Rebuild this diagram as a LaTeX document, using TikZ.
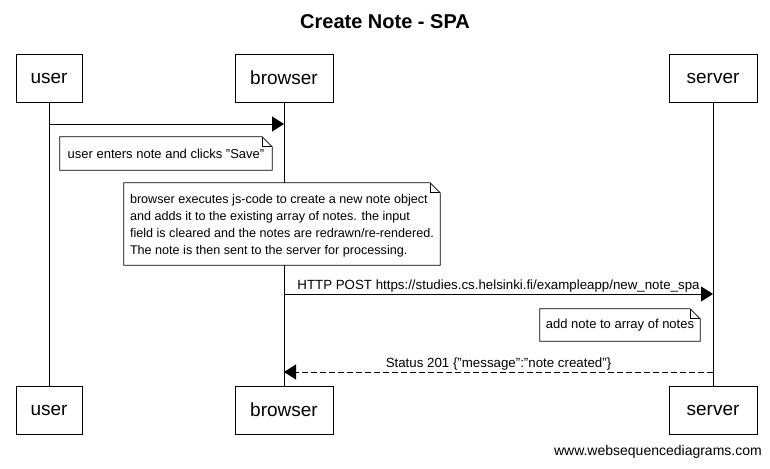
\documentclass[tikz,border=0pt]{standalone}
\usepackage{fontspec}
\setmainfont{Liberation Sans}
\usetikzlibrary{arrows.meta}
\begin{document}
\begin{tikzpicture}[x=1pt,y=-1pt,
  actor/.style={draw,thick,fill=white,minimum width=#1,minimum height=48pt,inner sep=0pt,font=\fontsize{19}{22}\selectfont},
  lifeline/.style={draw,line width=0.8pt},
  msg/.style={line width=0.8pt,-{Triangle[length=12pt,width=15pt]}},
  reply/.style={msg,dash pattern=on 6pt off 3pt},
  notebody/.style={fill=white,inner sep=0pt,font=\fontsize{13}{16.8}\selectfont},
  lbl/.style={font=\fontsize{13.3}{15}\selectfont,inner sep=1pt}]
\useasboundingbox (0,0) rectangle (770,468);
\newcommand\notefold[1]{%
  \draw[line width=0.8pt] (#1.north west) -- ([xshift=-10pt]#1.north east) -- ([yshift=-10pt]#1.north east) -- (#1.south east) -- (#1.south west) -- cycle;
  \draw[line width=0.8pt] ([xshift=-10pt]#1.north east) |- ([yshift=-10pt]#1.north east);}
\node (title) at (385,22) {\fontsize{20}{22}\selectfont\bfseries Create Note - SPA};
% actors
\node[actor=66pt]  (ut) at (49,78)  {user};
\node[actor=98pt]  (bt) at (284,78) {browser};
\node[actor=88pt]  (st) at (713,78) {server};
\node[actor=66pt]  (ub) at (49,410)  {user};
\node[actor=98pt]  (bb) at (284,410) {browser};
\node[actor=88pt]  (sb) at (713,410) {server};
\draw[lifeline] (ut.south) -- (ub.north);
\draw[lifeline] (bt.south) -- (bb.north);
\draw[lifeline] (st.south) -- (sb.north);
% message 1
\coordinate (m1s) at (49,124);
\coordinate (m1e) at (284,124);
\draw[msg] (m1s) -- (m1e);
% note 1
\node[notebody,minimum width=212pt,minimum height=33pt] (n1) at (166,153.5) {user enters note and clicks "Save"};
\notefold{n1}
% note 2
\node[notebody,font=\fontsize{12.6}{16.8}\selectfont,minimum width=316pt,minimum height=82pt,align=left] (n2) at (282,224) {%
  \rule{0pt}{13pt}browser executes js-code to create a new note object\\
  and adds it to the existing array of notes. the input\\
  field is cleared and the notes are redrawn/re-rendered.\\
  The note is then sent to the server for processing.};
\notefold{n2}
% message 2
\coordinate (m2s) at (284,294);
\coordinate (m2e) at (713,294);
\draw[msg] (m2s) -- node[lbl,above] (l2) {HTTP POST https://studies.cs.helsinki.fi/exampleapp/new\_note\_spa} (m2e);
% note 3
\node[notebody,minimum width=160pt,minimum height=32pt] (n3) at (620,325) {add note to array of notes};
\notefold{n3}
% message 3
\coordinate (m3s) at (713,372);
\coordinate (m3e) at (284,372);
\draw[reply] (m3s) -- node[lbl,above] (l3) {Status 201 \{"message":"note created"\}} (m3e);
% footer
\node[anchor=east,font=\fontsize{14}{16}\selectfont,inner sep=0pt] (foot) at (762,452) {www.websequencediagrams.com};
\end{tikzpicture}
\end{document}
